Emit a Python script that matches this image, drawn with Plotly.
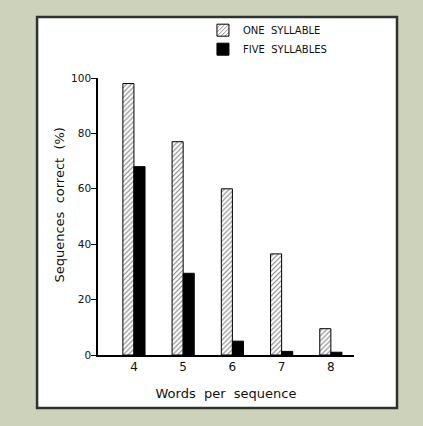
import plotly.graph_objects as go

# data
words = [4, 5, 6, 7, 8]
one_syllable = [98, 77, 60, 36.5, 9.5]
five_syllables = [68, 29.5, 5, 1.3, 1]
y_ticks = [0, 20, 40, 60, 80, 100]

FONT = "DejaVu Sans"
INK = "#111111"

fig = go.Figure()

fig.add_trace(go.Bar(
    x=words, y=one_syllable, name="ONE\u00a0\u00a0SYLLABLE",
    marker=dict(color="white", line=dict(color="black", width=1),
                pattern=dict(shape="/", fgcolor="black", bgcolor="white",
                             size=3.5, solidity=0.3)),
))
fig.add_trace(go.Bar(
    x=words, y=five_syllables, name="FIVE\u00a0\u00a0SYLLABLES",
    marker=dict(color="black", line=dict(color="black", width=1)),
))

# white panel with dark frame
fig.add_shape(type="rect", xref="paper", yref="paper",
              x0=-0.238, x1=1.168, y0=-0.191, y1=1.22,
              fillcolor="white", line=dict(color="#2f3330", width=2.5),
              layer="below")

# y title placed by hand, it sits close to the tick labels
fig.add_annotation(text="Sequences\u00a0\u00a0correct\u00a0\u00a0(%)",
                   xref="paper", yref="paper", x=-0.152, y=0.54,
                   xanchor="center", yanchor="middle",
                   textangle=-90, showarrow=False, font=dict(size=13))

fig.update_layout(
    width=423, height=426,
    margin=dict(l=98, r=69, t=78, b=71),
    paper_bgcolor="#cdd2bb",
    plot_bgcolor="rgba(0,0,0,0)",
    barmode="group", bargap=0.55, bargroupgap=0,
    font=dict(family=FONT, color=INK, size=11),
    showlegend=True,
    legend=dict(x=0.41, y=1.225, xanchor="left", yanchor="top",
                bgcolor="rgba(0,0,0,0)", font=dict(size=10, family=FONT),
                tracegroupgap=2),
    xaxis=dict(range=[3.27, 8.47], tickvals=words, ticktext=[str(w) for w in words],
               showgrid=False, zeroline=False, showline=True, linecolor="black",
               linewidth=1.5, ticks="", tickfont=dict(size=12),
               title=dict(text="Words\u00a0\u00a0per\u00a0\u00a0sequence",
                          font=dict(size=13), standoff=16)),
    yaxis=dict(range=[0, 100], tickvals=y_ticks, showgrid=False, zeroline=False,
               showline=True, linecolor="black", linewidth=1.5,
               ticks="outside", ticklen=5, tickcolor="black",
               tickfont=dict(size=10.5), ticklabelstandoff=-2),
)

# drop the page's default 8px body margin so the figure fills the window
fig.write_html("out.html", config={"displayModeBar": False},
               post_script="document.body.style.margin='0';")
